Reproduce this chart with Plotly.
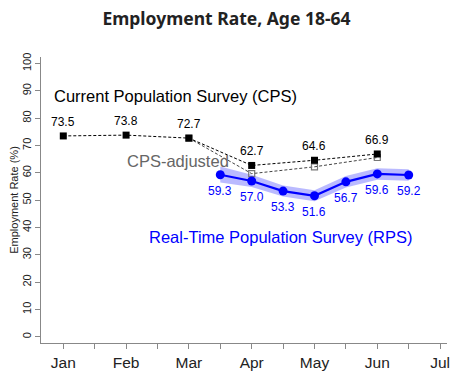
import plotly.graph_objects as go

months = ["Jan", "Feb", "Mar", "Apr", "May", "Jun", "Jul"]
month_pos = [0, 1, 2, 3, 4, 5, 6]

cps_x = [0, 1, 2, 3, 4, 5]
cps_y = [73.5, 73.8, 72.7, 62.7, 64.6, 66.9]

adj_x = [2, 3, 4, 5]
adj_y = [72.7, 59.7, 62.2, 65.6]

rps_x = [2.5, 3.0, 3.5, 4.0, 4.5, 5.0, 5.5]
rps_y = [59.3, 57.0, 53.3, 51.6, 56.7, 59.6, 59.2]
rps_hi = [62.3, 59.3, 55.4, 53.6, 58.8, 61.7, 61.3]
rps_lo = [56.5, 54.8, 51.3, 49.6, 54.6, 57.5, 57.1]

yticks = [0, 10, 20, 30, 40, 50, 60, 70, 80, 90, 100]

FONT = "Liberation Sans, Arial, sans-serif"
OFF = 8  # page body margin
W, H = 468 - OFF, 374 - OFF

fig = go.Figure()

# RPS confidence band
fig.add_trace(go.Scatter(x=rps_x + rps_x[::-1], y=rps_hi + rps_lo[::-1],
                         fill="toself", fillcolor="rgba(90,90,255,0.42)",
                         line=dict(width=0), mode="lines", hoverinfo="skip",
                         showlegend=False))
# CPS-adjusted
fig.add_trace(go.Scatter(x=adj_x, y=adj_y, mode="lines+markers",
                         line=dict(color="#444444", width=1, dash="3px,2px"),
                         marker=dict(symbol="square-open", size=6, color="#777777",
                                     line=dict(width=1.2, color="#777777")),
                         showlegend=False))
# CPS
fig.add_trace(go.Scatter(x=cps_x, y=cps_y, mode="lines+markers",
                         line=dict(color="black", width=1, dash="3px,2px"),
                         marker=dict(symbol="square", size=7, color="black"),
                         showlegend=False))
# RPS
fig.add_trace(go.Scatter(x=rps_x, y=rps_y, mode="lines+markers",
                         line=dict(color="#0000FF", width=2.2),
                         marker=dict(symbol="circle", size=9, color="#0000FF"),
                         showlegend=False))

annotations = []
for x, y in zip(cps_x, cps_y):
    annotations.append(dict(x=x, y=y, text=f"{y:.1f}", showarrow=False,
                            yshift=14, font=dict(family=FONT, size=12, color="black")))
for x, y in zip(rps_x, rps_y):
    annotations.append(dict(x=x, y=y, text=f"{y:.1f}", showarrow=False,
                            yshift=-16, font=dict(family=FONT, size=12, color="#0000FF")))

annotations.append(dict(x=-0.18, y=88.1, text="Current Population Survey (CPS)",
                        showarrow=False, xanchor="left",
                        font=dict(family=FONT, size=16.5, color="black")))
annotations.append(dict(x=1.83, y=64.3, text="CPS-adjusted", showarrow=False,
                        font=dict(family=FONT, size=16.5, color="#666666")))
annotations.append(dict(x=1.33, y=36.4, text="Real-Time Population Survey (RPS)",
                        showarrow=False, xanchor="left",
                        font=dict(family=FONT, size=16.5, color="#0000FF")))

tickvals = []
ticktext = []
for i, m in enumerate(months):
    tickvals.append(month_pos[i])
    ticktext.append(m)
    if i < len(months) - 1:
        tickvals.append(month_pos[i] + 0.5)
        ticktext.append("")

fig.update_layout(
    width=W, height=H,
    margin=dict(l=41 - OFF, r=21, t=57 - OFF, b=31),
    paper_bgcolor="white", plot_bgcolor="white",
    title=dict(text="<b>Employment Rate, Age 18-64</b>", x=(226.5 - OFF) / W, xanchor="center",
               y=1 - (19 - OFF) / H, yanchor="middle",
               font=dict(family="Noto Sans, sans-serif", size=17.5, color="#222222")),
    annotations=annotations,
    xaxis=dict(range=[-0.355, 6.11], tickvals=tickvals, ticktext=ticktext,
               showgrid=False, zeroline=False, showline=True, linecolor="#888888",
               linewidth=1, ticks="outside", ticklen=5, tickcolor="#888888",
               automargin=False,
               tickfont=dict(family=FONT, size=15.5, color="#222222")),
    yaxis=dict(range=[-2.3, 102.4], tickvals=yticks, showgrid=False, zeroline=False,
               showline=True, linecolor="#888888", linewidth=1, ticks="outside",
               ticklen=5, tickcolor="#888888", tickangle=-90, automargin=False,
               tickfont=dict(family=FONT, size=11, color="#222222"),
               title=dict(text="Employment Rate (%)", standoff=4,
                          font=dict(family=FONT, size=11, color="#222222"))),
)

fig.write_html("out.html")
